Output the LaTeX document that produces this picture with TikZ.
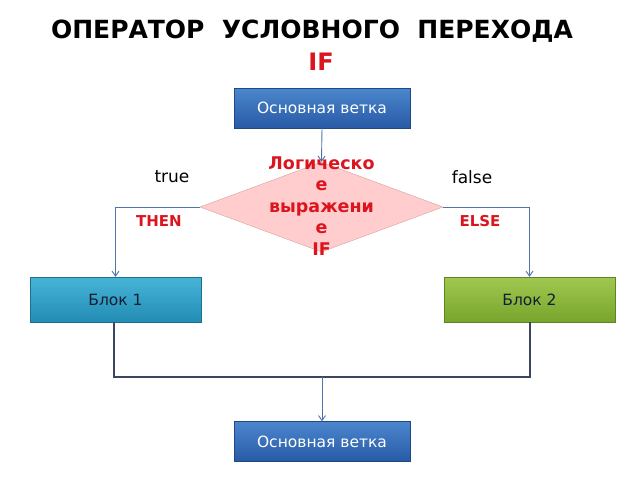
\documentclass[tikz,border=0pt]{standalone}
\usepackage{fontspec}
\setmainfont{DejaVu Sans}
\usetikzlibrary{shapes.geometric,arrows.meta}
\definecolor{lineblue}{RGB}{80,115,170}
\definecolor{linedark}{RGB}{60,70,95}
\definecolor{boxtop}{RGB}{75,135,205}
\definecolor{boxbot}{RGB}{40,90,165}
\definecolor{tealtop}{RGB}{70,180,215}
\definecolor{tealbot}{RGB}{35,140,180}
\definecolor{greentop}{RGB}{160,200,80}
\definecolor{greenbot}{RGB}{120,165,45}
\definecolor{diafill}{RGB}{255,205,205}
\definecolor{diaedge}{RGB}{215,160,160}
\definecolor{redtxt}{RGB}{220,20,30}
\definecolor{navytxt}{RGB}{20,30,50}
\tikzset{
  mainbox/.style={rectangle, minimum width=176pt, minimum height=40pt, top color=boxtop, bottom color=boxbot, draw=boxbot!80!black, text=white, font=\fontsize{15.5}{17}\selectfont, inner sep=0pt},
  blockone/.style={rectangle, minimum width=171pt, minimum height=45pt, top color=tealtop, bottom color=tealbot, draw=tealbot!80!black, text=navytxt, font=\fontsize{15.5}{17}\selectfont, inner sep=0pt},
  blocktwo/.style={rectangle, minimum width=171pt, minimum height=45pt, top color=greentop, bottom color=greenbot, draw=greenbot!80!black, text=navytxt, font=\fontsize{15.5}{17}\selectfont, inner sep=0pt},
  cond/.style={diamond, minimum width=243pt, minimum height=90pt, fill=diafill, draw=diaedge, inner sep=0pt},
  arr/.style={draw=lineblue, line width=0.9pt, -{Straight Barb[length=5pt,width=7pt]}},
  merge/.style={draw=linedark, line width=1.4pt},
  lbl/.style={font=\fontsize{17}{19}\selectfont, text=black},
  redlbl/.style={font=\bfseries\fontsize{15}{17}\selectfont, text=redtxt},
}
\begin{document}
\begin{tikzpicture}[x=1pt,y=-1pt]
\useasboundingbox (0,0) rectangle (640,480);
\node[font=\bfseries\fontsize{25}{28}\selectfont] (title) at (312,31) {ОПЕРАТОР\ \ УСЛОВНОГО\ \ ПЕРЕХОДА};
\node[font=\bfseries\fontsize{24}{28}\selectfont, text=redtxt] (titleif) at (321,62) {IF};
\node[mainbox] (top) at (322,108) {Основная ветка};
\node[cond] (cond) at (321.5,207) {};
\node[align=center, text=redtxt, font=\bfseries\fontsize{17.5}{21.5}\selectfont] (condtxt) at (321.5,206) {Логическо\\е\\выражени\\е\\IF};
\node[lbl] (true) at (172,177) {true};
\node[lbl] (false) at (472,177) {false};
\node[redlbl] (then) at (159,221) {THEN};
\node[redlbl] (else) at (480,221) {ELSE};
\node[blockone] (b1) at (115.5,299.5) {Блок 1};
\node[blocktwo] (b2) at (529.5,299.5) {Блок 2};
\node[mainbox] (bot) at (322,441.5) {Основная ветка};
\coordinate (m1) at (114,377);
\coordinate (m2) at (530,377);
\coordinate (mc) at (322,377);
\draw[arr] (top.south) -- (cond.north);
\draw[arr] (cond.west) -| (b1.north);
\draw[arr] (cond.east) -| (b2.north);
\draw[merge] (b1.south -| m1) -- (m1) -- (m2) -- (b2.south -| m2);
\draw[arr] (mc) -- (bot.north);
\end{tikzpicture}
\end{document}
